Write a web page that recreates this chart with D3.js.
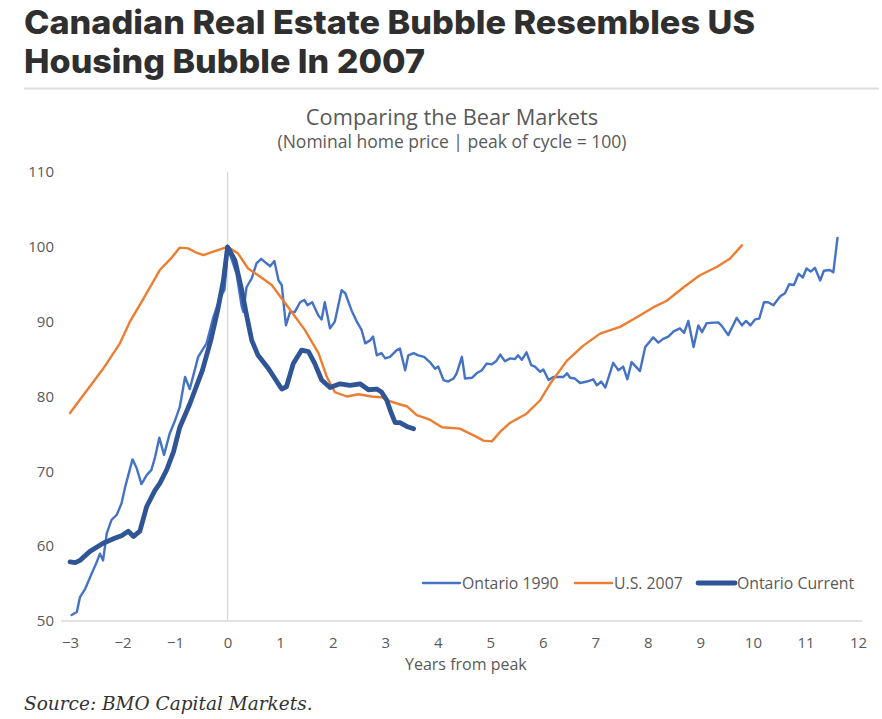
<!DOCTYPE html>
<html>
<head>
<meta charset="utf-8">
<script src="https://cdn.jsdelivr.net/npm/d3@7"></script>
<style>
  body { margin: 0; background: #fff; }
  svg { display: block; }
</style>
</head>
<body>
<svg id="chart" width="882" height="719"></svg>
<script>
// years from peak / index values (peak = 100)
const ont1990Years = [-2.97,-2.87,-2.81,-2.71,-2.59,-2.49,-2.43,-2.37,-2.30,-2.21,-2.11,-2.02,-1.95,-1.89,-1.81,-1.73,-1.64,-1.54,-1.45,-1.38,-1.30,-1.21,-1.10,-1.00,-0.91,-0.81,-0.72,-0.56,-0.40,-0.27,-0.14,-0.06,-0.02,0,
  0.17,0.27,0.30,0.36,0.46,0.55,0.64,0.74,0.81,0.89,0.97,1.03,1.11,1.19,1.28,1.38,1.46,1.52,1.61,1.73,1.79,1.85,1.95,2.04,2.17,2.24,2.36,2.46,2.55,2.62,2.71,2.77,2.84,2.93,3.00,3.09,3.22,3.28,3.38,3.44,3.54,3.63,3.74,3.85,3.95,4.01,4.11,4.20,4.30,4.36,4.46,4.52,4.65,4.74,4.84,4.93,5.03,5.11,5.19,5.28,5.38,5.47,5.53,5.60,5.69,5.78,5.85,5.95,6.01,6.11,6.20,6.30,6.39,6.46,6.52,6.61,6.71,6.84,6.96,7.03,7.11,7.19,7.34,7.44,7.53,7.61,7.69,7.85,7.95,8.10,8.20,8.29,8.39,8.49,8.61,8.69,8.77,8.87,8.96,9.03,9.12,9.34,9.41,9.53,9.69,9.79,9.87,9.95,10.04,10.12,10.21,10.29,10.39,10.52,10.61,10.69,10.78,10.87,10.95,11.02,11.10,11.18,11.28,11.35,11.46,11.53,11.61];
const ont1990Values = [50.8,51.2,53.2,54.3,56.3,57.9,59.0,58.1,61.7,63.5,64.2,65.7,67.9,69.5,71.6,70.4,68.3,69.5,70.2,71.9,74.5,72.2,75.1,76.8,78.6,82.6,81.0,85.3,87.1,90.6,93.3,94.2,97.5,100,
  96.4,92.0,91.3,94.6,95.8,97.8,98.4,97.8,97.4,98.1,95.5,94.9,89.5,91.3,91.3,92.6,92.9,92.2,92.6,90.8,90.3,92.6,89.1,90.0,94.2,93.8,91.5,90.0,88.9,87.1,87.5,88.0,85.5,85.8,85.1,85.3,86.2,86.4,83.5,85.5,85.8,85.5,85.3,84.6,83.7,84.0,82.2,82.0,82.4,83.1,85.3,82.4,82.5,83.1,83.5,84.4,84.3,84.7,85.6,84.7,85.1,85.0,85.5,84.9,85.9,84.2,84.0,83.3,83.6,82.2,82.6,82.6,82.6,83.1,82.5,82.4,81.8,82.0,82.3,81.5,82.0,81.2,84.5,83.5,84.0,82.3,84.6,83.4,86.6,87.9,87.2,87.7,88.0,88.7,89.1,88.5,90.1,86.6,89.5,88.6,89.8,89.9,89.4,88.2,90.5,89.5,90.1,89.5,90.3,90.4,92.6,92.6,92.2,93.4,93.8,95.0,94.9,96.4,95.9,97.1,96.7,97.2,95.5,96.8,96.9,96.6,101.2];

const us2007Years = [-3.00,-2.68,-2.37,-2.05,-1.86,-1.64,-1.29,-1.06,-0.91,-0.75,-0.62,-0.46,-0.30,0,
  0.20,0.39,0.58,0.84,1.03,1.22,1.47,1.73,1.89,2.04,2.27,2.49,2.74,2.93,3.12,3.25,3.41,3.60,3.85,4.08,4.42,4.74,4.87,5.03,5.19,5.38,5.69,5.95,6.14,6.46,6.77,7.09,7.47,7.79,8.10,8.36,8.68,8.99,9.31,9.56,9.79];
const us2007Values = [77.8,80.8,83.7,87.1,90.0,92.6,96.9,98.6,99.9,99.8,99.3,98.9,99.3,100,
  99.1,97.1,96.2,94.9,93.1,91.3,88.9,85.8,82.6,80.6,80.0,80.3,80.0,79.9,79.3,79.0,78.7,77.5,76.9,75.9,75.7,74.6,74.1,74.0,75.3,76.5,77.7,79.5,81.7,84.8,86.8,88.4,89.3,90.6,91.9,92.8,94.6,96.2,97.3,98.4,100.2];

const ontCurYears = [-3.00,-2.90,-2.81,-2.62,-2.37,-2.14,-2.02,-1.89,-1.79,-1.67,-1.54,-1.38,-1.29,-1.16,-1.03,-0.91,-0.72,-0.48,-0.32,-0.19,-0.08,0,
  0.14,0.27,0.36,0.46,0.58,0.78,0.90,1.03,1.12,1.25,1.41,1.54,1.66,1.79,1.95,2.14,2.33,2.52,2.68,2.84,2.93,3.03,3.12,3.19,3.28,3.41,3.54];
const ontCurValues = [57.9,57.8,58.1,59.3,60.4,61.1,61.4,62.0,61.3,62.0,65.3,67.5,68.4,70.2,72.6,75.9,79.0,83.5,87.5,91.5,95.5,100,
  98.2,94.2,90.9,87.5,85.5,83.7,82.4,81.0,81.3,84.4,86.2,86.0,84.4,82.2,81.2,81.7,81.5,81.7,80.9,81.0,80.6,79.5,77.7,76.5,76.5,76.0,75.7];

const xTicks = d3.range(-3, 13);
const yTicks = [50, 60, 70, 80, 90, 100, 110];
const seriesNames = ["Ontario 1990", "U.S. 2007", "Ontario Current"];
const seriesColors = ["#4472C4", "#ED7D31", "#2F5597"];
const seriesWidths = [2.4, 2.4, 4.8];

const svg = d3.select("#chart");

// page heading
const head = svg.append("g").attr("font-family", "Inter, 'Open Sans', sans-serif")
  .attr("font-weight", 800).attr("font-size", 33).attr("fill", "#2f2f2f");
head.append("text").attr("x", 24).attr("y", 34).attr("textLength", 731)
  .attr("lengthAdjust", "spacingAndGlyphs").text("Canadian Real Estate Bubble Resembles US");
head.append("text").attr("x", 24).attr("y", 73).attr("textLength", 401)
  .attr("lengthAdjust", "spacingAndGlyphs").text("Housing Bubble In 2007");
svg.append("line").attr("x1", 24).attr("x2", 879).attr("y1", 88.5).attr("y2", 88.5)
  .attr("stroke", "#dcdcdc").attr("stroke-width", 2);

// chart titles
svg.append("text").attr("x", 452).attr("y", 125).attr("text-anchor", "middle")
  .attr("font-family", "'Open Sans', sans-serif").attr("font-size", 21.8).attr("fill", "#595959")
  .text("Comparing the Bear Markets");
svg.append("text").attr("x", 452).attr("y", 148).attr("text-anchor", "middle")
  .attr("font-family", "'Open Sans', sans-serif").attr("font-size", 17.5).attr("fill", "#595959")
  .text("(Nominal home price | peak of cycle = 100)");

const x = d3.scaleLinear().domain([-3, 12]).range([70, 858]);
const y = d3.scaleLinear().domain([50, 110]).range([621, 172]);

// axes
const xAxis = svg.append("g").attr("transform", `translate(0,${y(50)})`)
  .call(d3.axisBottom(x).tickValues(xTicks).tickSize(0).tickPadding(16));
xAxis.select(".domain").remove();
xAxis.append("line").attr("x1", x(-3) - 9).attr("x2", x(12) + 4).attr("y1", 0).attr("y2", 0)
  .attr("stroke", "#d9d9d9").attr("stroke-width", 1.5);
xAxis.selectAll(".tick text").attr("font-family", "'Open Sans', sans-serif")
  .attr("font-size", 15).attr("fill", "#595959");

const yAxis = svg.append("g").attr("transform", "translate(54,0)")
  .call(d3.axisLeft(y).tickValues(yTicks).tickSize(0).tickPadding(0));
yAxis.select(".domain").remove();
yAxis.selectAll(".tick text").attr("font-family", "'Open Sans', sans-serif")
  .attr("font-size", 15).attr("fill", "#595959");

// zero line
svg.append("line").attr("x1", x(0)).attr("x2", x(0)).attr("y1", y(110)).attr("y2", y(50))
  .attr("stroke", "#d9d9d9").attr("stroke-width", 1.3);

svg.append("text").attr("x", 405).attr("y", 670)
  .attr("font-family", "'Open Sans', sans-serif").attr("font-size", 16).attr("fill", "#595959")
  .text("Years from peak");

// lines
const line = d3.line().x(d => x(d[0])).y(d => y(d[1]));
const seriesData = [
  d3.zip(ont1990Years, ont1990Values),
  d3.zip(us2007Years, us2007Values),
  d3.zip(ontCurYears, ontCurValues)
];
seriesData.forEach((data, i) => {
  svg.append("path").datum(data)
    .attr("d", line)
    .attr("fill", "none")
    .attr("stroke", seriesColors[i])
    .attr("stroke-width", seriesWidths[i])
    .attr("stroke-linejoin", "round")
    .attr("stroke-linecap", "round");
});

// legend
const legendX = [423, 575, 698];
const leg = svg.append("g").attr("font-family", "'Open Sans', sans-serif")
  .attr("font-size", 15.8).attr("fill", "#595959");
seriesNames.forEach((name, i) => {
  leg.append("line").attr("x1", legendX[i]).attr("x2", legendX[i] + 37)
    .attr("y1", 583).attr("y2", 583)
    .attr("stroke", seriesColors[i]).attr("stroke-width", seriesWidths[i])
    .attr("stroke-linecap", "round");
  leg.append("text").attr("x", legendX[i] + 39).attr("y", 589).text(name);
});

// source
svg.append("text").attr("x", 24).attr("y", 710)
  .attr("font-family", "'DejaVu Serif', serif").attr("font-style", "italic")
  .attr("font-size", 18.5).attr("fill", "#333")
  .text("Source: BMO Capital Markets.");
</script>
</body>
</html>
